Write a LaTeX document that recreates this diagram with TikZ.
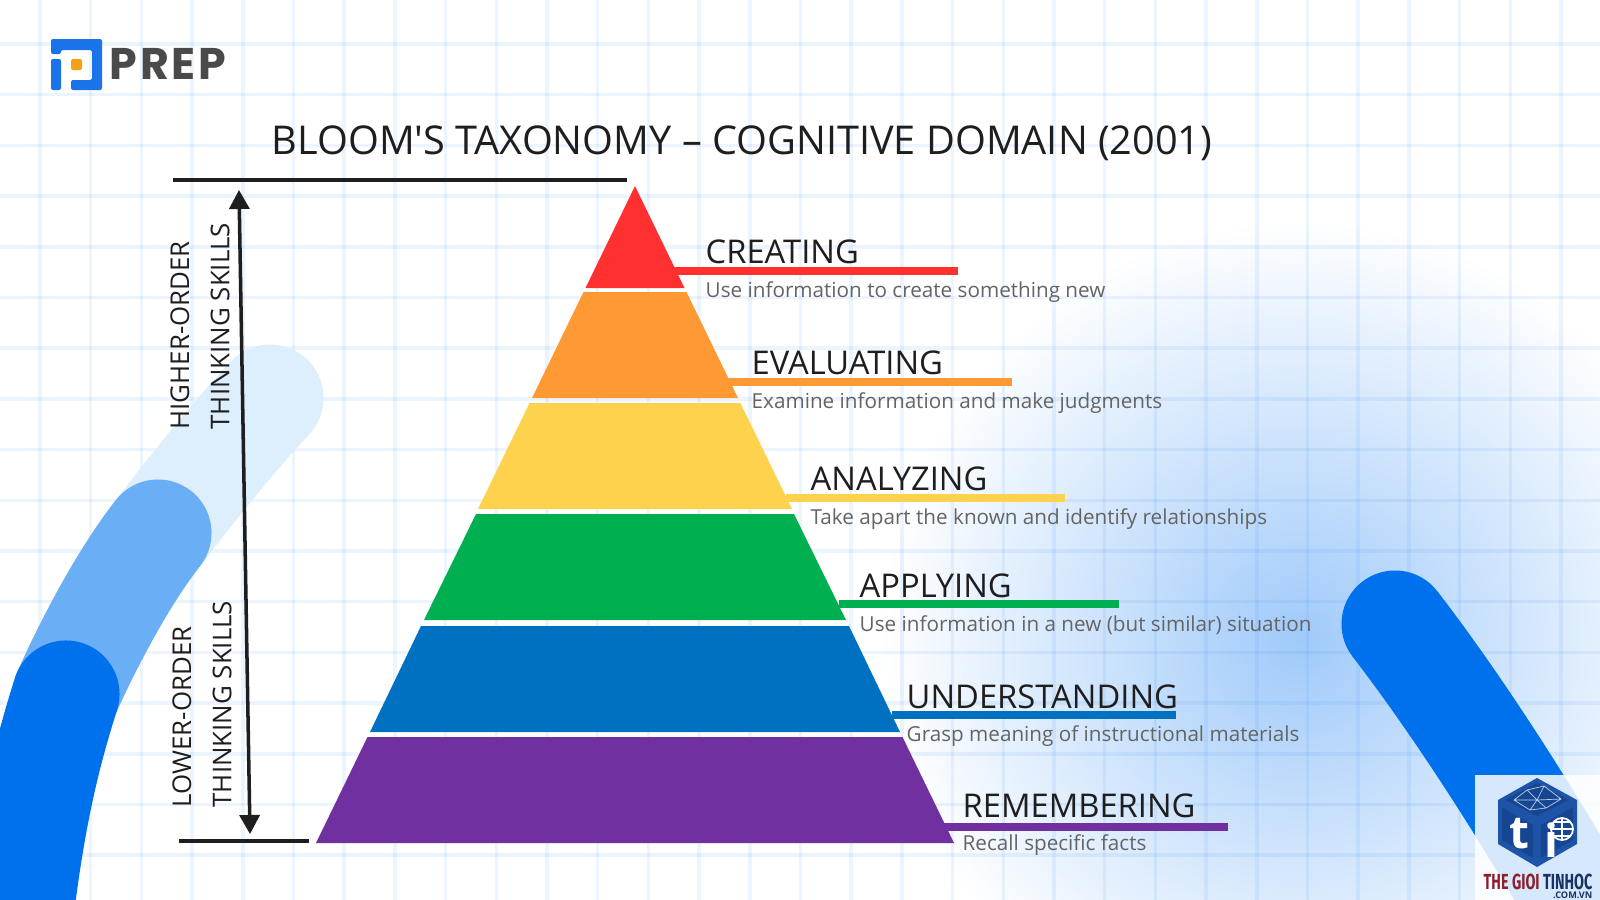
\documentclass[tikz,border=0pt]{standalone}
\usepackage{fontspec}
\setmainfont{Open Sans}
\newfontfamily\titlefont{Open Sans}
\newfontfamily\logofont[LetterSpace=6]{Poppins}
\newfontfamily\narrowfont[FakeStretch=0.66]{Fira Sans}
\definecolor{gridblue}{RGB}{40, 130, 240}
\definecolor{glowblue}{RGB}{160, 202, 250}
\definecolor{arclight}{RGB}{221, 238, 252}
\definecolor{arcmid}{RGB}{106, 174, 245}
\definecolor{arcdark}{RGB}{0, 113, 236}
\definecolor{prepblue}{RGB}{26, 115, 232}
\definecolor{prepgray}{RGB}{74, 74, 74}
\definecolor{preporange}{RGB}{245, 160, 20}
\definecolor{inkblack}{RGB}{30, 30, 30}
\definecolor{descgray}{RGB}{100, 100, 100}
\definecolor{creatingred}{RGB}{255, 48, 48}
\definecolor{evalorange}{RGB}{255, 153, 51}
\definecolor{analyzeyellow}{RGB}{255, 210, 77}
\definecolor{applygreen}{RGB}{0, 176, 80}
\definecolor{understandblue}{RGB}{0, 112, 192}
\definecolor{rememberpurple}{RGB}{112, 48, 160}
\definecolor{cubeblue}{RGB}{30, 84, 168}
\definecolor{cubedark}{RGB}{22, 70, 146}
\definecolor{tgtred}{RGB}{138, 32, 48}
\definecolor{tgtnavy}{RGB}{24, 50, 100}
\usetikzlibrary{arrows.meta}

\begin{document}
\begin{tikzpicture}[x=0.01cm, y=-0.01cm,
    gridline/.style={gridblue, opacity=0.085, line width=1pt},
    bgarc/.style={line width=1.07cm, line cap=round},
    leader/.style={line width=2.2pt},
    levelname/.style={anchor=base west, inner sep=0pt, text=inkblack, font=\fontsize{9.3}{11}\selectfont},
    leveldesc/.style={anchor=base west, inner sep=0pt, text=descgray, font=\fontsize{5.88}{8}\selectfont},
    sidetext/.style={rotate=90, anchor=west, align=left, inner sep=0pt, text=inkblack, font=\fontsize{7.35}{11.4}\selectfont},
    rule/.style={inkblack, line width=1pt}]
  \useasboundingbox (0,0) rectangle (1600,900);
  \clip (0,0) rectangle (1600,900);
  \fill[white] (0,0) rectangle (1600,900);

  % Background glow, grid and arcs
  \shade[inner color=glowblue, middle color=glowblue!62!white, outer color=white] (1300,640) circle (420);
  \foreach \i in {0,...,31} {
    \draw[gridline] ({40+50.7*\i},0) -- ({40+50.7*\i},900);
  }
  \foreach \i in {0,...,17} {
    \draw[gridline] (0,{44+50.7*\i}) -- (1600,{44+50.7*\i});
  }
  \draw[bgarc, arclight] (270,398) .. controls (235,435) and (195,485) .. (158,533);
  \draw[bgarc, arcmid] (158,533) .. controls (125,575) and (90,640) .. (66,694);
  \draw[bgarc, arcdark] (66,694) .. controls (45,760) and (28,830) .. (15,960);
  \draw[bgarc, arcdark] (1395,624) .. controls (1442,685) and (1515,790) .. (1605,950);

  % Brand mark
  \fill[prepblue, rounded corners=0.02cm] (51,39) -- (102,39) -- (102,90) -- (71,90) -- (71,80) -- (92,80) -- (92,50) -- (61,50) -- (61,54) -- (51,54) -- cycle;
  \fill[prepblue, rounded corners=0.02cm] (51,59) rectangle (61,90);
  \fill[preporange, rounded corners=0.02cm] (71,59) rectangle (82,70);
  \node[anchor=base west, inner sep=0pt, text=prepgray, font=\logofont\bfseries\fontsize{12.6}{14}\selectfont] (preplogo) at (109,80) {PREP};

  % Title
  \node[anchor=base west, inner sep=0pt, text=inkblack, font=\titlefont\fontsize{11.28}{14}\selectfont] (title) at (271,154) {BLOOM'S TAXONOMY – COGNITIVE DOMAIN (2001)};

  % Pyramid
  \fill[creatingred] (635,186) -- (684.5,288) -- (585.5,288) -- cycle;
  \fill[evalorange] (583.5,292) -- (686.5,292) -- (738,398) -- (532,398) -- cycle;
  \fill[analyzeyellow] (529.6,403) -- (740.4,403) -- (792,509) -- (478,509) -- cycle;
  \fill[applygreen] (476,514) -- (794,514) -- (846,620) -- (424,620) -- cycle;
  \fill[understandblue] (421,626) -- (849,626) -- (900,732) -- (370,732) -- cycle;
  \fill[rememberpurple] (367.5,737) -- (902.5,737) -- (954,843) -- (316,843) -- cycle;

  % Leader lines
  \coordinate (creatingA) at (673,271);
  \coordinate (creatingB) at (958,271);
  \coordinate (evalA) at (728,382);
  \coordinate (evalB) at (1012,382);
  \coordinate (analyzeA) at (786,498);
  \coordinate (analyzeB) at (1065,498);
  \coordinate (applyA) at (839,604);
  \coordinate (applyB) at (1119,604);
  \coordinate (understandA) at (892,715);
  \coordinate (understandB) at (1176,715);
  \coordinate (rememberA) at (944,827);
  \coordinate (rememberB) at (1228,827);
  \draw[leader, creatingred] (creatingA) -- (creatingB);
  \draw[leader, evalorange] (evalA) -- (evalB);
  \draw[leader, analyzeyellow] (analyzeA) -- (analyzeB);
  \draw[leader, applygreen] (applyA) -- (applyB);
  \draw[leader, understandblue] (understandA) -- (understandB);
  \draw[leader, rememberpurple] (rememberA) -- (rememberB);

  % Level names and descriptions
  \node[levelname] (creating) at (705,263) {CREATING};
  \node[leveldesc] (creatingtxt) at (705,297) {Use information to create something new};
  \node[levelname] (evaluating) at (751,374) {EVALUATING};
  \node[leveldesc] (evaluatingtxt) at (751,408) {Examine information and make judgments};
  \node[levelname] (analyzing) at (810,490) {ANALYZING};
  \node[leveldesc] (analyzingtxt) at (810,524) {Take apart the known and identify relationships};
  \node[levelname] (applying) at (859,597) {APPLYING};
  \node[leveldesc] (applyingtxt) at (859,631) {Use information in a new (but similar) situation};
  \node[levelname] (understanding) at (906,708) {UNDERSTANDING};
  \node[leveldesc] (understandingtxt) at (906,741) {Grasp meaning of instructional materials};
  \node[levelname] (remembering) at (962,817) {REMEMBERING};
  \node[leveldesc] (rememberingtxt) at (962,850) {Recall specific facts};

  % Left scale
  \coordinate (topruleA) at (173,180);
  \coordinate (topruleB) at (627,180);
  \coordinate (botruleA) at (179,841);
  \coordinate (botruleB) at (309,841);
  \coordinate (arrowtop) at (239,190);
  \coordinate (arrowbot) at (250,834);
  \draw[rule] (topruleA) -- (topruleB);
  \draw[rule] (botruleA) -- (botruleB);
  \draw[{Triangle[length=0.19cm, width=0.2cm]}-{Triangle[length=0.19cm, width=0.2cm]}, rule] (arrowtop) -- (arrowbot);
  \node[sidetext] (higher) at (200,430) {HIGHER-ORDER\\THINKING SKILLS};
  \node[sidetext] (lower) at (202,808) {LOWER-ORDER\\THINKING SKILLS};

  % Corner badge
  \fill[white, opacity=0.84] (1475,775) rectangle (1600,900);
  \fill[cubeblue] (1537,778) -- (1577,800) -- (1577,844) -- (1537,867) -- (1498,844) -- (1498,800) -- cycle;
  \fill[cubedark] (1537,783) -- (1569,800) -- (1537,816) -- (1505,800) -- cycle;
  \fill[cubedark] (1502,807) -- (1533,825) -- (1533,858) -- (1502,840) -- cycle;
  \fill[cubedark] (1541,825) -- (1573,807) -- (1573,840) -- (1541,858) -- cycle;
  \draw[white!70!cubeblue, line width=0.2pt] (1514,800) -- (1527,790) -- (1544,786) -- (1561,799) -- (1546,808) -- (1530,810) -- cycle (1527,790) -- (1537,800) -- (1544,786) (1514,800) -- (1537,800) -- (1561,799) (1530,810) -- (1537,800) -- (1546,808);
  \node[inner sep=0pt, text=white, font=\bfseries\fontsize{13}{14}\selectfont] (tletter) at (1519,834) {t};
  \draw[white, line width=0.5pt] (1562,829) circle (11);
  \draw[white, line width=0.3pt] (1551,829) -- (1573,829) (1562,818) -- (1562,840) (1554,822) -- (1570,822) (1554,836) -- (1570,836);
  \node[inner sep=0pt, text=white, font=\bfseries\fontsize{13}{14}\selectfont] (iletter) at (1551,840) {i};
  \node[anchor=base west, inner sep=0pt, font=\narrowfont\bfseries\fontsize{6.2}{7}\selectfont] (tgtname) at (1483,889) {\textcolor{tgtred}{THE GIOI} \textcolor{tgtnavy}{TINHOC}};
  \node[anchor=base east, inner sep=0pt, text=tgtnavy, font=\bfseries\fontsize{2.6}{3}\selectfont] (tgtweb) at (1593,898) {.COM.VN};
\end{tikzpicture}
\end{document}
